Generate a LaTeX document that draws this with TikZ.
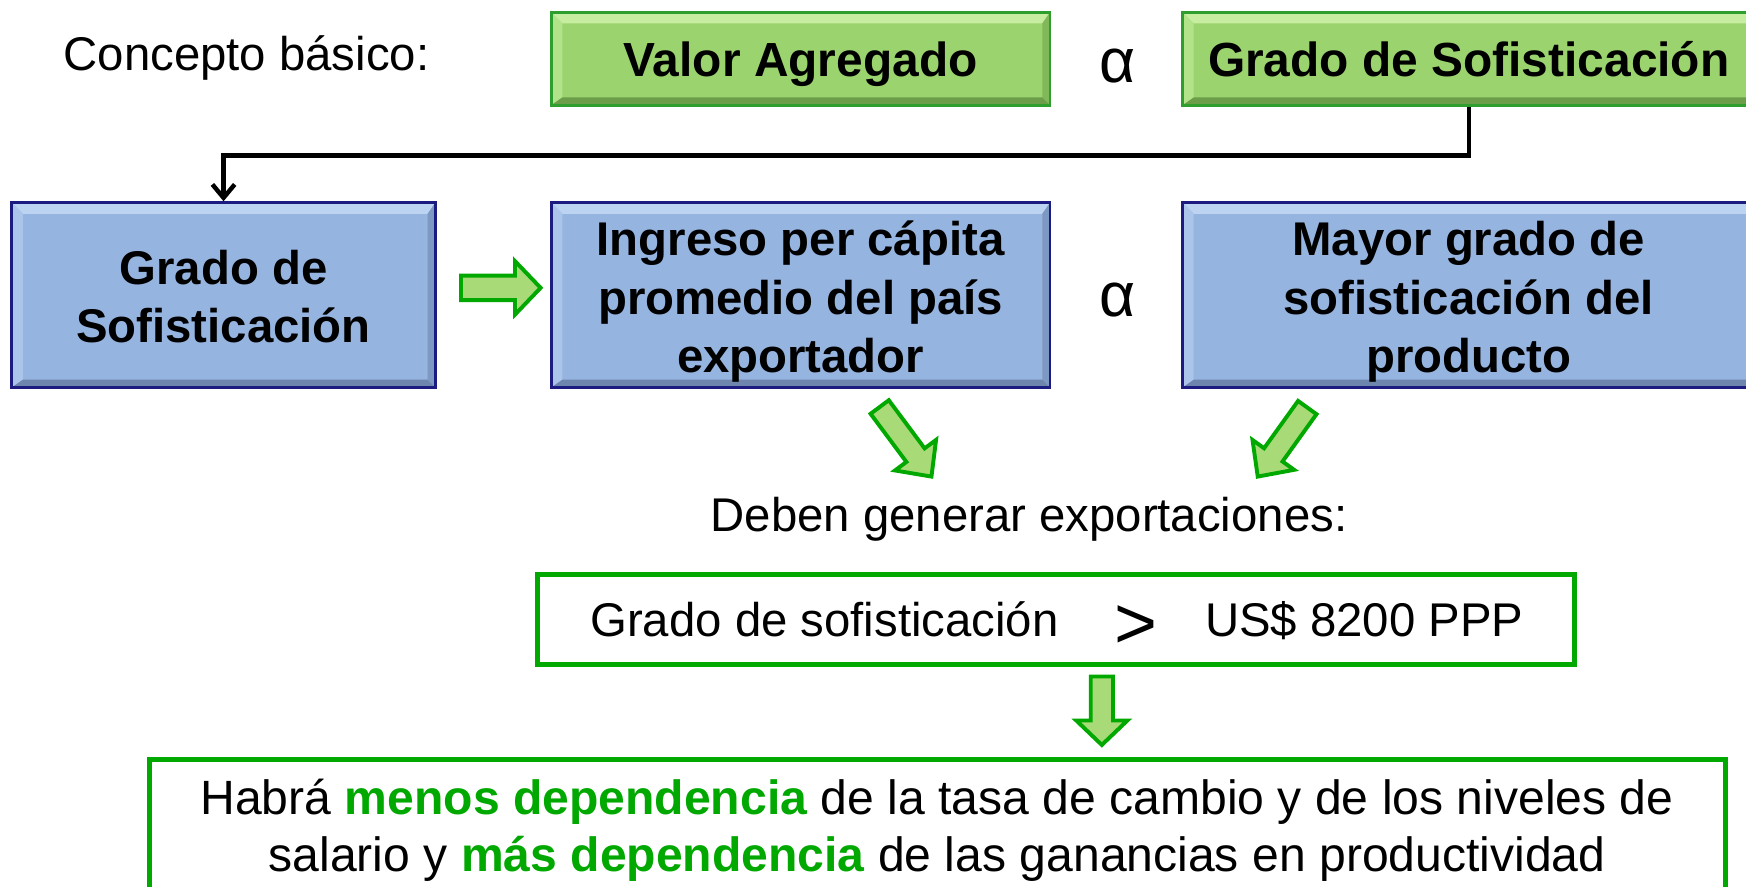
\documentclass[tikz,border=0pt]{standalone}
\usepackage{fontspec}
\setmainfont{Liberation Sans}
\usetikzlibrary{calc,arrows.meta}
\definecolor{gfill}{HTML}{9BD46E}
\definecolor{gtop}{HTML}{C6EDA0}
\definecolor{gleft}{HTML}{B2E28A}
\definecolor{gright}{HTML}{80B85A}
\definecolor{gbot}{HTML}{6C9E4A}
\definecolor{gborder}{HTML}{2E9E2E}
\definecolor{bfill}{HTML}{95B4DF}
\definecolor{btop}{HTML}{BCD4F2}
\definecolor{bleft}{HTML}{AAC4EA}
\definecolor{bright}{HTML}{7D98C2}
\definecolor{bbot}{HTML}{6E86AE}
\definecolor{bborder}{HTML}{1C1C80}
\definecolor{vgreen}{HTML}{00A800}
\definecolor{afill}{HTML}{A8DA78}
\newcommand{\blkarrow}[5]{%
  \coordinate (#1-h) at ($(#2)!#5!(#1)$);
  \filldraw[blockarr] ($(#1)!#3!90:(#2)$) -- ($(#1-h)!#3!90:(#2)$) -- ($(#1-h)!#4!90:(#2)$)
    -- (#2) -- ($(#1-h)!#4!-90:(#2)$) -- ($(#1-h)!#3!-90:(#2)$) -- ($(#1)!#3!-90:(#2)$) -- cycle;}
\tikzset{
  bevel/.style n args={4}{path picture={
    \def\pb{path picture bounding box}
    \fill[#1] (\pb.north west) -- (\pb.north east) -- ([shift={(-7pt,-10pt)}]\pb.north east) -- ([shift={(10pt,-10pt)}]\pb.north west) -- cycle;
    \fill[#2] (\pb.north west) -- (\pb.south west) -- ([shift={(10pt,7pt)}]\pb.south west) -- ([shift={(10pt,-10pt)}]\pb.north west) -- cycle;
    \fill[#3] (\pb.north east) -- (\pb.south east) -- ([shift={(-7pt,7pt)}]\pb.south east) -- ([shift={(-7pt,-10pt)}]\pb.north east) -- cycle;
    \fill[#4] (\pb.south west) -- (\pb.south east) -- ([shift={(-7pt,7pt)}]\pb.south east) -- ([shift={(10pt,7pt)}]\pb.south west) -- cycle;
  }},
  gbox/.style={draw=gborder, line width=2.5pt, fill=gfill, bevel={gtop}{gleft}{gright}{gbot},
    font=\fontsize{43}{51.5}\selectfont\bfseries, text height=33pt, text depth=1pt, inner sep=0pt,
    minimum height=83.5pt},
  bbox/.style={draw=bborder, line width=2.5pt, fill=bfill, bevel={btop}{bleft}{bright}{bbot},
    font=\fontsize{42.5}{52.5}\selectfont\bfseries, align=center, inner sep=0pt, minimum height=166pt},
  btext/.style={font=\fontsize{42.5}{52.5}\selectfont\bfseries, align=center, inner sep=0pt},
  obox/.style={draw=vgreen, line width=4.5pt, fill=white, inner sep=0pt},
  conn/.style={line width=4pt, -{Straight Barb[length=12pt,width=20pt]}},
  blockarr/.style={draw=vgreen, fill=afill, line width=3.5pt, line join=miter},
  txt/.style={font=\fontsize{42.5}{50}\selectfont, inner sep=0pt},
  alph/.style={font=\fontsize{56}{56}\selectfont, inner sep=0pt, anchor=base},
}
\begin{document}
\begin{tikzpicture}[x=1pt,y=-1pt]
\useasboundingbox (0,0) rectangle (1568,795.7);
\clip (0,0) rectangle (1568,795.7);
% top row
\node[txt, anchor=base west] (concepto) at (57,63.5) {Concepto básico:};
\node[gbox, minimum width=448pt] (valor) at (719,52.75) {Valor Agregado};
\node[alph] (alpha1) at (1004,74.5) {α};
\node[gbox, minimum width=514pt] (gsTop) at (1319,52.75) {Grado de Sofisticación};
% second row
\node[bbox, minimum width=380.5pt] (gsBlue) at (200.75,265) {};
\node[btext] (gsBlueTxt) at (200.75,266.5) {Grado de\\Sofisticación};
\node[bbox, minimum width=448pt] (ingreso) at (719,265) {};
\node[btext] (ingresoTxt) at (719,271) {Ingreso per cápita\\promedio del país\\exportador};
\node[alph] (alpha2) at (1004,284) {α};
\node[bbox, minimum width=514pt] (mayor) at (1319,265) {};
\node[btext] (mayorTxt) at (1319,271) {Mayor grado de\\sofisticación del\\producto};
% connector
\draw[conn] (gsTop.south) -- ++(0,44) -| (gsBlue.north);
% block arrows
\coordinate (ra-t) at (414,258.5);
\coordinate (ra-p) at (485.5,258.5);
\blkarrow{ra-t}{ra-p}{11pt}{24pt}{23pt}
\coordinate (d1-t) at (790,365.5);
\coordinate (d1-p) at (836.5,428);
\blkarrow{d1-t}{d1-p}{10.2pt}{23pt}{24pt}
\coordinate (d2-t) at (1174,366);
\coordinate (d2-p) at (1129.5,428);
\blkarrow{d2-t}{d2-p}{10.2pt}{23pt}{24pt}
% middle text
\node[txt, anchor=base west] (deben) at (638,477.5) {Deben generar exportaciones:};
\node[obox, minimum width=931pt, minimum height=81pt] (cond) at (948.5,556.5) {};
\node[txt, anchor=base west] (grado) at (530,572) {Grado de sofisticación};
\node[font=\fontsize{66}{66}\selectfont, inner sep=0pt] (gt) at (1020,563) {>};
\node[txt, anchor=base west] (us) at (1082,572) {US\$ 8200 PPP};
% down arrow
\coordinate (dn-t) at (989.5,607.5);
\coordinate (dn-p) at (989.5,669);
\blkarrow{dn-t}{dn-p}{10pt}{23pt}{22pt}
% bottom box
\node[obox, minimum width=1416pt, minimum height=158pt] (result) at (842,761) {};
\node[txt, font=\fontsize{43.2}{52}\selectfont, align=center, anchor=north] (restxt) at (841.5,699)
  {Habrá \textcolor{vgreen}{\bfseries menos dependencia} de la tasa de cambio y de los niveles de\\
   salario y \textcolor{vgreen}{\bfseries más dependencia} de las ganancias en productividad};
\end{tikzpicture}
\end{document}
